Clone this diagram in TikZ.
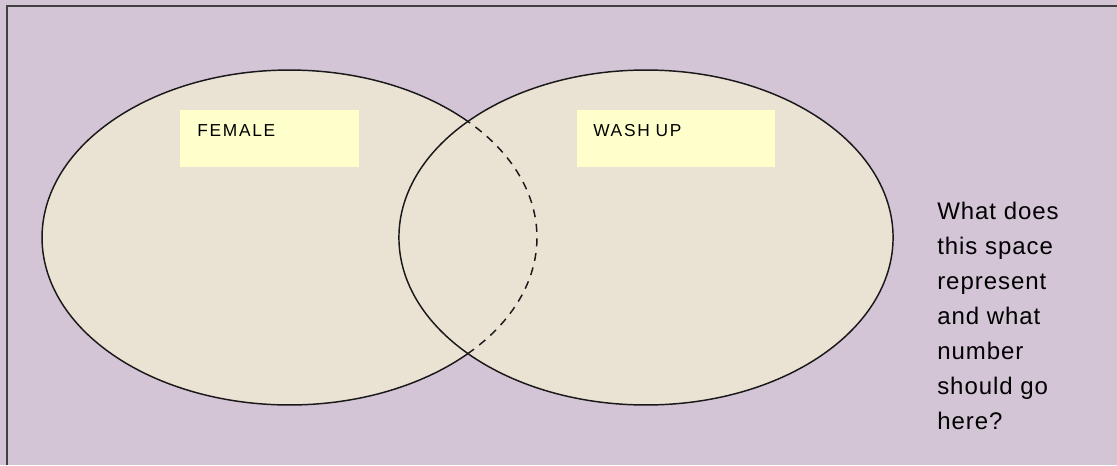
\documentclass[tikz,border=0pt]{standalone}
\usepackage{fontspec}
\setmainfont{Liberation Sans}
\newfontfamily\rotulo[LetterSpace=10]{Liberation Sans}
\newfontfamily\pergunta[LetterSpace=4]{Liberation Sans}
\definecolor{lilas}{RGB}{211,196,214}
\definecolor{areia}{RGB}{234,227,211}
\definecolor{creme}{RGB}{255,255,204}
\begin{document}
\begin{tikzpicture}[x=0.75pt, y=-0.75pt,
    conjunto/.style={fill=areia},
    contorno/.style={line width=1.1pt, black!90},
    etiqueta/.style={fill=creme, anchor=north west, align=left, inner ysep=9.75pt, text height=10pt, text depth=13.25pt, font=\rotulo\fontsize{13}{15}\selectfont}]
    \useasboundingbox (0,0) rectangle (1117,465);
    \fill[lilas] (0,0) rectangle (1117,465);
    \draw[line width=1.5pt, black!75] (7,465) -- (7,6) -- (1117,6);

    \coordinate (F) at (289.5,237.5);
    \coordinate (W) at (646,237.5);

    \fill[conjunto] (F) ellipse[x radius=185.6pt, y radius=125.6pt];
    \fill[conjunto] (W) ellipse[x radius=185.3pt, y radius=125.6pt];
    \draw[contorno] (W) ellipse[x radius=185.3pt, y radius=125.6pt];
    \draw[contorno] (F) ++(44:185.6pt and 125.6pt) arc[start angle=44, end angle=316, x radius=185.6pt, y radius=125.6pt];
    \draw[contorno, dash pattern=on 6pt off 5pt] (F) ++(-44:185.6pt and 125.6pt) arc[start angle=-44, end angle=44, x radius=185.6pt, y radius=125.6pt];

    \node[etiqueta, inner xsep=12.75pt, text width=108.75pt] (female) at (180,110) {FEMALE};
    \node[etiqueta, inner xsep=12pt, text width=124.5pt] (washup) at (577,110) {WASH UP};

    \node[anchor=north west, align=left, inner sep=0pt, font=\pergunta\fontsize{18}{26.25}\selectfont] (questao) at (937,202)
        {What does\\this space\\represent\\and what\\number\\should go\\here?};
\end{tikzpicture}
\end{document}
